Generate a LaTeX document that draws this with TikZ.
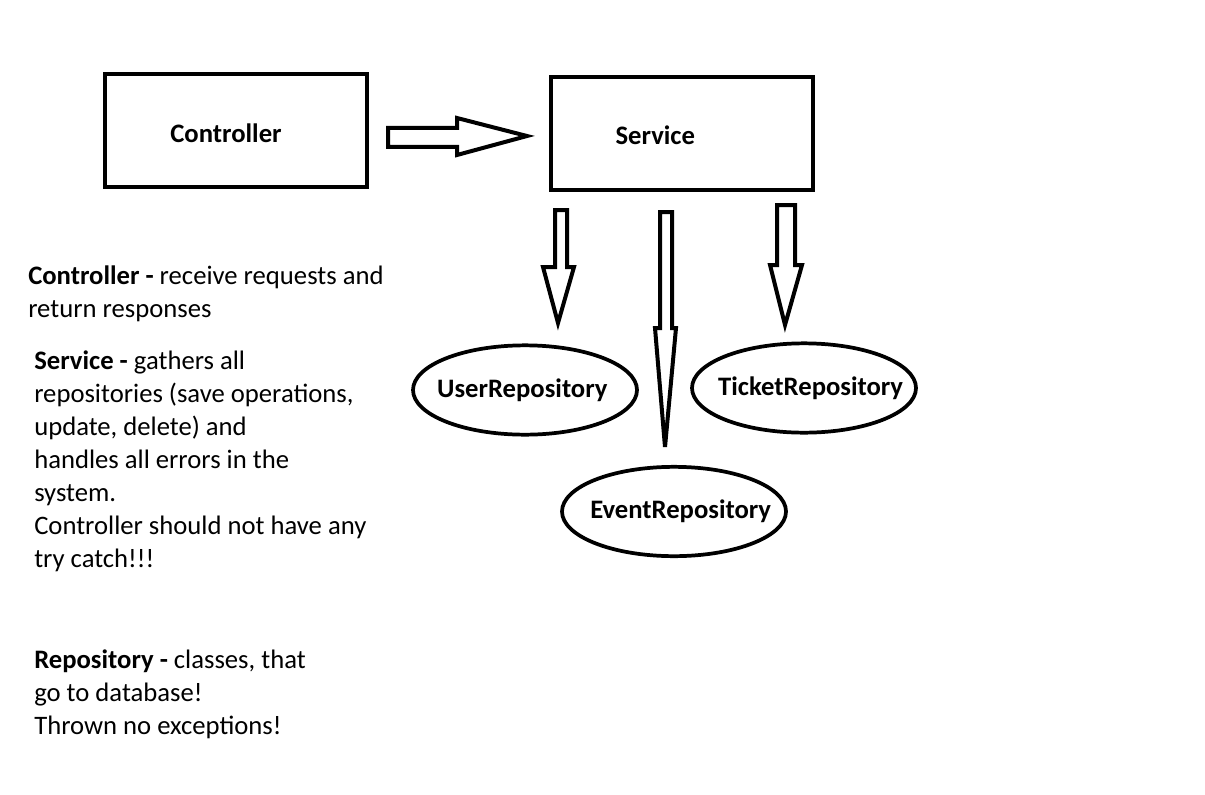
\documentclass[tikz,border=0pt]{standalone}
\usepackage{fontspec}
\setmainfont{Carlito}
\usetikzlibrary{shapes.geometric}
\begin{document}
\begin{tikzpicture}[x=0.75pt,y=-0.75pt,
  txt/.style={font=\fontsize{20}{24.75}\selectfont},
  bx/.style={draw,line width=3pt,minimum width=196.5pt,minimum height=84.75pt,inner sep=0pt},
  ell/.style={draw,ellipse,line width=2.8pt,minimum width=168pt,minimum height=67pt,inner sep=0pt},
  blk/.style={draw,line width=3pt,line join=miter,fill=white},
  note/.style={txt,align=left,anchor=base west,inner sep=0pt}]
\useasboundingbox (0,0) rectangle (1205,795);
% boxes
\node[bx,label={[txt,xshift=-7.5pt,yshift=-2pt]center:\textbf{Controller}}] (ctrl) at (236,130.5) {};
\node[bx,label={[txt,xshift=-20pt,yshift=-1.5pt]center:\textbf{Service}}] (serv) at (682,133.5) {};
% ellipses
\node[ell,label={[txt,xshift=-2pt]center:\textbf{UserRepository}}] (user) at (525,390) {};
\node[ell,label={[txt,xshift=5pt]center:\textbf{TicketRepository}}] (ticket) at (804,388) {};
\node[ell,label={[txt,xshift=5pt]center:\textbf{EventRepository}}] (event) at (674,511.5) {};
% block arrows
\draw[blk] (388,128) -- (457,128) -- (457,118) -- (527,136) -- (457,155) -- (457,147) -- (388,147) -- cycle;
\draw[blk] (555,210) -- (567,210) -- (567,267) -- (574,267) -- (558,323) -- (543,267) -- (555,267) -- cycle;
\draw[blk] (660,212) -- (672,212) -- (672,328) -- (676,328) -- (665,447) -- (655,328) -- (660,328) -- cycle;
\draw[blk] (777,205) -- (795,205) -- (795,265) -- (802,265) -- (785,325) -- (770,265) -- (777,265) -- cycle;
% notes (base anchor = baseline of last line)
\node[note] (n1) at (28,317) {\textbf{Controller -} receive requests and\\return responses};
\node[note] (n2) at (34,567) {\textbf{Service -} gathers all\\repositories (save operations,\\update, delete) and\\handles all errors in the\\system.\\Controller should not have any\\try catch!!!};
\node[note] (n3) at (34,734) {\textbf{Repository -} classes, that\\go to database!\\Thrown no exceptions!};
\end{tikzpicture}
\end{document}
